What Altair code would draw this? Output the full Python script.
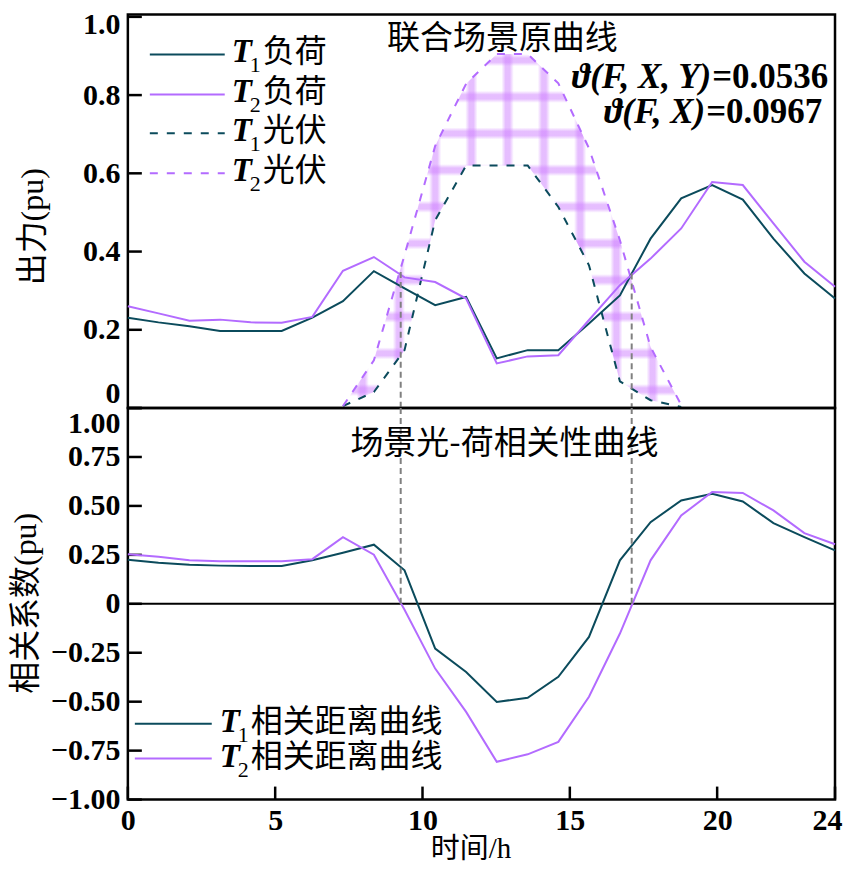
import altair as alt
import pandas as pd

# ---------------- data ----------------
hours = [0.00, 1.04, 2.09, 3.13, 4.17, 5.22, 6.26, 7.30, 8.35, 9.39, 10.43, 11.48,
         12.52, 13.57, 14.61, 15.65, 16.70, 17.74, 18.78, 19.83, 20.87, 21.91, 22.96, 24.00]
t1_load = [0.231, 0.219, 0.209, 0.197, 0.197, 0.197, 0.231, 0.273, 0.350, 0.306, 0.263, 0.284,
           0.127, 0.148, 0.148, 0.216, 0.288, 0.433, 0.536, 0.570, 0.533, 0.433, 0.344, 0.280]
t2_load = [0.260, 0.242, 0.223, 0.226, 0.219, 0.218, 0.233, 0.351, 0.386, 0.334, 0.322, 0.280,
           0.114, 0.132, 0.135, 0.225, 0.314, 0.382, 0.459, 0.578, 0.570, 0.472, 0.374, 0.310]
pv_hours = [7.30, 8.35, 9.39, 10.43, 11.48, 12.52, 13.57, 14.61, 15.65, 16.70, 17.74, 18.78]
t1_pv = [0.005, 0.041, 0.148, 0.480, 0.620, 0.620, 0.620, 0.514, 0.365, 0.068, 0.020, 0.003]
t2_pv = [0.005, 0.122, 0.391, 0.670, 0.829, 0.905, 0.905, 0.830, 0.664, 0.429, 0.156, 0.008]
t1_corr = [0.225, 0.210, 0.200, 0.195, 0.193, 0.193, 0.222, 0.261, 0.302, 0.171, -0.229, -0.348,
           -0.501, -0.480, -0.373, -0.169, 0.222, 0.417, 0.528, 0.562, 0.523, 0.412, 0.341, 0.273]
t2_corr = [0.253, 0.240, 0.223, 0.217, 0.217, 0.217, 0.228, 0.340, 0.251, -0.030, -0.331, -0.552,
           -0.807, -0.769, -0.705, -0.475, -0.152, 0.222, 0.451, 0.571, 0.566, 0.477, 0.361, 0.304]
marker_hours = [9.26, 17.10]
marker_load = [0.348, 0.344]
x_ticks = [0, 5, 10, 15, 20, 24]
top_ticks = [0, 0.2, 0.4, 0.6, 0.8, 1.0]
bottom_ticks = [-1.0, -0.75, -0.5, -0.25, 0, 0.25, 0.5, 0.75, 1.0]
top_legend = [("1", "负荷"), ("2", "负荷"), ("1", "光伏"), ("2", "光伏")]
bottom_legend = [("1", "相关距离曲线"), ("2", "相关距离曲线")]

# ---------------- style ----------------
W, H_TOP, H_BOT = 708, 394, 392
DARK = "#0b4b5c"
PURPLE = "#b36bff"
GRAY = "#808080"
NUM = "Liberation Serif, DejaVu Serif, Noto Sans CJK SC"
CJK = "Noto Sans CJK SC"
DASH = [8, 9]

main = pd.DataFrame({"hour": hours, "t1_load": t1_load, "t2_load": t2_load,
                     "t1_corr": t1_corr, "t2_corr": t2_corr})
pv = pd.DataFrame({"hour": pv_hours, "t1_pv": t1_pv, "t2_pv": t2_pv})
markers = pd.DataFrame({"hour": marker_hours, "load": marker_load,
                        "zero": [0, 0], "one": [1, 1]})

xs = alt.Scale(domain=[0, 24], nice=False, zero=False)
ys_top = alt.Scale(domain=[0, 1.006], nice=False)
ys_bot = alt.Scale(domain=[-1, 1], nice=False)
one = alt.Data(values=[{}])

top_axis = alt.Axis(
    values=top_ticks, ticks=False, tickSize=0, domain=False, grid=False,
    labelFont=NUM, labelFontSize=30, labelFontWeight="bold", labelColor="black",
    labelPadding=8, labelFlush=False, labelOverlap=False,
    labelExpr="datum.value == 0 ? '0' : format(datum.value, '.1f')",
    labelBaseline={"condition": [{"test": "datum.value == 0", "value": "bottom"},
                                 {"test": "datum.value == 1", "value": "top"}],
                   "value": "middle"},
    labelOffset={"condition": {"test": "datum.value == 1", "value": -7}, "value": 0},
    title="出力(pu)", titleFont=NUM, titleFontSize=32, titleFontWeight="normal",
    titleColor="black", titleX=-78, titleY=212, titleAlign="center",
)
bot_axis = alt.Axis(
    values=bottom_ticks, ticks=False, tickSize=0, domain=False, grid=False,
    labelFont=NUM, labelFontSize=30, labelFontWeight="bold", labelColor="black",
    labelPadding=8, labelFlush=False, labelOverlap=False,
    labelExpr="datum.value == 0 ? '0' : format(datum.value, '.2f')",
    labelBaseline={"condition": {"test": "datum.value == 1", "value": "top"}, "value": "middle"},
    title="相关系数(pu)", titleFont=NUM, titleFontSize=32, titleFontWeight="normal",
    titleColor="black", titleX=-85, titleY=195, titleAlign="center",
)
x_axis = alt.Axis(
    values=x_ticks, ticks=False, tickSize=0, domain=False, grid=False,
    labelFont=NUM, labelFontSize=30, labelFontWeight="bold", labelColor="black",
    labelPadding=6, labelFlush=False, labelOverlap=False, format="d",
    labelOffset={"condition": {"test": "datum.value == 24", "value": -8}, "value": 0},
    title="时间/h", titleFont=NUM, titleFontSize=29, titleFontWeight="normal",
    titleColor="black", titleX=343, titleY=49, titleBaseline="middle", titleAlign="center",
)


def XT(field="hour"):
    return alt.X(f"{field}:Q", scale=xs, axis=None)


def XB(field="hour"):
    return alt.X(f"{field}:Q", scale=xs, axis=x_axis)


def YT(field):
    return alt.Y(f"{field}:Q", scale=ys_top, axis=top_axis)


def YB(field):
    return alt.Y(f"{field}:Q", scale=ys_bot, axis=bot_axis)


# ---- cross-hatch pattern for the area between the PV curves (style only) ----
def stripe_stops(centers, hw):
    on = "rgba(205,125,255,0.5)"
    off = "rgba(205,125,255,0)"
    stops, last = [], 0.0
    for c in sorted(centers):
        for o, col in ((c - hw, off), (c - 0.35 * hw, on), (c + 0.35 * hw, on), (c + hw, off)):
            o = min(max(o, 0.0), 1.0)
            if o >= last:
                stops.append(alt.GradientStop(offset=round(o, 4), color=col))
                last = o
    return stops


hmin, hmax = min(pv_hours), max(pv_hours)
vmax, vmin = max(t2_pv), min(t1_pv)
v_stripes_h = [7.97 + 1.23 * k for k in range(9)]
h_stripes_v = [0.046 + 0.0937 * k for k in range(10)]
x_offsets = [(h - hmin) / (hmax - hmin) for h in v_stripes_h]
y_offsets = [(vmax - v) / (vmax - vmin) for v in h_stripes_v]
grad_v = alt.LinearGradient(gradient="linear", stops=stripe_stops(x_offsets, 0.018),
                            x1=0, x2=1, y1=0, y2=0)
grad_h = alt.LinearGradient(gradient="linear", stops=stripe_stops(y_offsets, 0.017),
                            x1=0, x2=0, y1=0, y2=1)


def legend_row(x0, x1, y, color, dashed, sub, label, tx):
    kw = dict(color=color, strokeWidth=2)
    if dashed:
        kw["strokeDash"] = DASH
    return [
        alt.Chart(one).mark_rule(**kw).encode(x=alt.value(x0), x2=alt.value(x1), y=alt.value(y)),
        alt.Chart(one).mark_text(text="T", font=NUM, fontSize=33, fontStyle="italic",
                                 fontWeight="bold", align="left", baseline="middle",
                                 color="black").encode(x=alt.value(tx), y=alt.value(y - 2)),
        alt.Chart(one).mark_text(text=sub, font=NUM, fontSize=22, align="left",
                                 baseline="middle", color="black").encode(
            x=alt.value(tx + 18), y=alt.value(y + 11)),
        alt.Chart(one).mark_text(text=label, font=CJK, fontSize=32, align="left",
                                 baseline="middle", color="black").encode(
            x=alt.value(tx + 31), y=alt.value(y - 2)),
    ]


# ---------------- top panel ----------------
hatch1 = alt.Chart(pv).mark_area(fill=grad_v).encode(x=XT(), y=YT("t2_pv"), y2="t1_pv:Q")
hatch2 = alt.Chart(pv).mark_area(fill=grad_h).encode(x=XT(), y=YT("t2_pv"), y2="t1_pv:Q")
pv1 = alt.Chart(pv).mark_line(color=DARK, strokeWidth=2, strokeDash=DASH).encode(
    x=XT(), y=YT("t1_pv"))
pv2 = alt.Chart(pv).mark_line(color=PURPLE, strokeWidth=2, strokeDash=DASH).encode(
    x=XT(), y=YT("t2_pv"))
load1 = alt.Chart(main).mark_line(color=DARK, strokeWidth=2).encode(x=XT(), y=YT("t1_load"))
load2 = alt.Chart(main).mark_line(color=PURPLE, strokeWidth=2).encode(x=XT(), y=YT("t2_load"))
mark_top = alt.Chart(markers).mark_rule(color=GRAY, strokeWidth=2, strokeDash=[6, 4]).encode(
    x=XT(), y=YT("load"), y2="zero:Q")
ticks_top = alt.Chart(pd.DataFrame({"v": top_ticks})).mark_rule(color="black", strokeWidth=2.5).encode(
    x=alt.value(0), x2=alt.value(14), y=YT("v"))

title_top = alt.Chart(one).mark_text(text="联合场景原曲线", font=CJK, fontSize=33,
                                     align="center", baseline="middle", color="black").encode(
    x=alt.value(375), y=alt.value(25))
ann = [
    alt.Chart(one).mark_text(text="ϑ(F, X, Y)", font=NUM, fontSize=35, fontStyle="italic",
                             fontWeight="bold", align="right", baseline="alphabetic",
                             color="black").encode(x=alt.value(584), y=alt.value(74)),
    alt.Chart(one).mark_text(text="=0.0536", font=NUM, fontSize=35, fontWeight="bold",
                             align="left", baseline="alphabetic",
                             color="black").encode(x=alt.value(585), y=alt.value(74)),
    alt.Chart(one).mark_text(text="ϑ(F, X)", font=NUM, fontSize=35, fontStyle="italic",
                             fontWeight="bold", align="right", baseline="alphabetic",
                             color="black").encode(x=alt.value(578), y=alt.value(109)),
    alt.Chart(one).mark_text(text="=0.0967", font=NUM, fontSize=35, fontWeight="bold",
                             align="left", baseline="alphabetic",
                             color="black").encode(x=alt.value(579), y=alt.value(109)),
]

leg_top = []
for k, (sub, lab) in enumerate(top_legend):
    color = DARK if sub == "1" else PURPLE
    leg_top += legend_row(22, 97, [40, 80, 119, 159][k], color, k >= 2, sub, lab, 104)

top = alt.layer(ticks_top, hatch1, hatch2, pv1, pv2, load1, load2, mark_top,
                title_top, *ann, *leg_top).properties(width=W, height=H_TOP)

# ---------------- bottom panel ----------------
zero_line = alt.Chart(pd.DataFrame({"v": [0]})).mark_rule(color="black", strokeWidth=2).encode(
    y=YB("v"))
corr1 = alt.Chart(main).mark_line(color=DARK, strokeWidth=2).encode(x=XB(), y=YB("t1_corr"))
corr2 = alt.Chart(main).mark_line(color=PURPLE, strokeWidth=2).encode(x=XB(), y=YB("t2_corr"))
mark_bot = alt.Chart(markers).mark_rule(color=GRAY, strokeWidth=2, strokeDash=[6, 4]).encode(
    x=XB(), y=YB("one"), y2="zero:Q")
ticks_bot = alt.Chart(pd.DataFrame({"v": bottom_ticks})).mark_rule(color="black", strokeWidth=2.5).encode(
    x=alt.value(0), x2=alt.value(14), y=YB("v"))
ticks_x = alt.Chart(pd.DataFrame({"hour": x_ticks})).mark_rule(color="black", strokeWidth=2.5).encode(
    x=XB(), y=alt.value(H_BOT), y2=alt.value(H_BOT - 13))
title_bot = alt.Chart(one).mark_text(text="场景光-荷相关性曲线", font=CJK, fontSize=33,
                                     align="center", baseline="middle", color="black").encode(
    x=alt.value(377), y=alt.value(36))

leg_bot = []
for k, (sub, lab) in enumerate(bottom_legend):
    color = DARK if sub == "1" else PURPLE
    leg_bot += legend_row(7, 84, [316, 351][k], color, False, sub, lab, 92)

bottom = alt.layer(ticks_bot, ticks_x, zero_line, corr1, corr2, mark_bot,
                   title_bot, *leg_bot).properties(width=W, height=H_BOT)

chart = alt.vconcat(top, bottom, spacing=0, bounds="flush").configure_view(
    stroke="black", strokeWidth=2.5
).properties(padding={"left": 0, "top": 0, "right": 0, "bottom": 0}, background="white")

chart.save("out.html", embed_options={"renderer": "svg", "actions": False})
